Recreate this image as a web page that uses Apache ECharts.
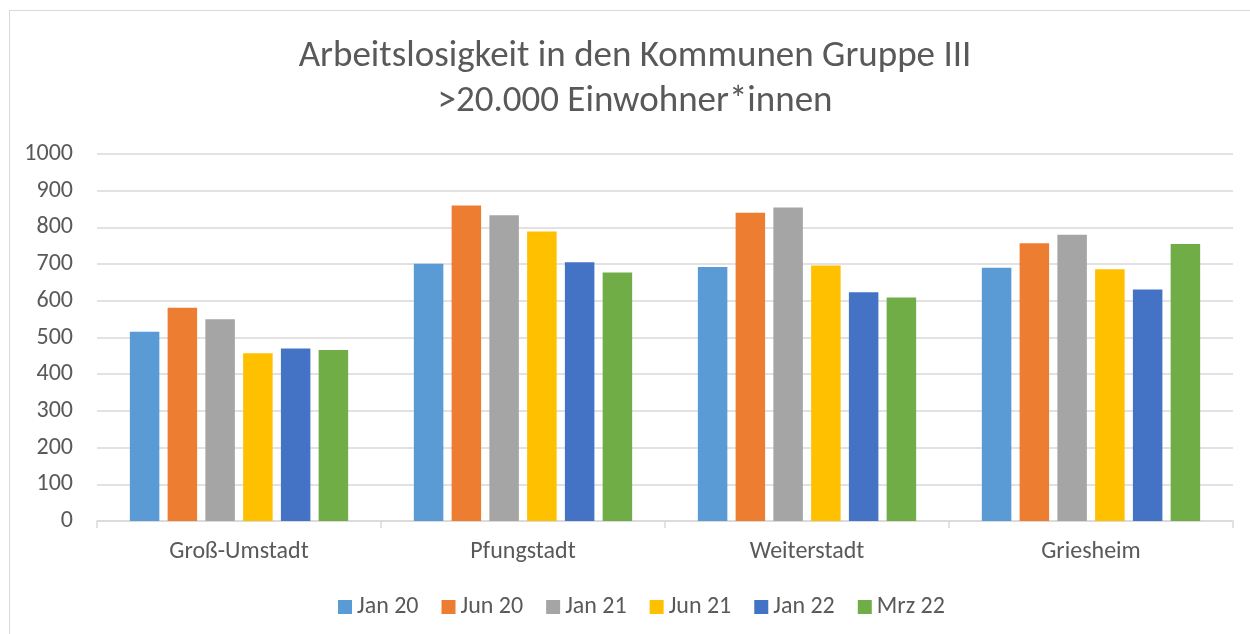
<!DOCTYPE html>
<html>
<head>
<meta charset="utf-8">
<script src="https://cdn.jsdelivr.net/npm/echarts@6/dist/echarts.min.js"></script>
<style>
  html, body { margin: 0; padding: 0; background: #fff; }
  #frame { position: absolute; left: 9px; top: 10px; width: 1250px; height: 630px; border: 1px solid #d9d9d9; box-sizing: border-box; }
  #chart { position: absolute; left: 0; top: 0; width: 1250px; height: 634px; }
</style>
</head>
<body>
<div id="frame"></div>
<div id="chart"></div>
<script>
// Kommunen (Kategorien)
var kommunen = ['Groß-Umstadt', 'Pfungstadt', 'Weiterstadt', 'Griesheim'];
// Stichtage
var stichtage = ['Jan 20', 'Jun 20', 'Jan 21', 'Jun 21', 'Jan 22', 'Mrz 22'];
var jan20 = [516, 701, 692, 690];
var jun20 = [581, 860, 840, 757];
var jan21 = [550, 833, 854, 780];
var jun21 = [457, 789, 696, 686];
var jan22 = [470, 705, 623, 631];
var mrz22 = [466, 677, 609, 755];
var yTicks = [0, 100, 200, 300, 400, 500, 600, 700, 800, 900, 1000];

var werte = [jan20, jun20, jan21, jun21, jan22, mrz22];
var farben = ['#5B9BD5', '#ED7D31', '#A5A5A5', '#FFC000', '#4472C4', '#70AD47'];
var schrift = "Carlito, Calibri, 'Open Sans', sans-serif";

var myChart = echarts.init(document.getElementById('chart'));
var series = [];
for (var i = 0; i < stichtage.length; i++) {
  series.push({
    name: stichtage[i],
    type: 'bar',
    data: werte[i],
    barWidth: 29.5,
    barGap: '28%',
    itemStyle: { color: farben[i] }
  });
}

var option = {
  color: farben,
  title: {
    text: 'Arbeitslosigkeit in den Kommunen Gruppe III\n>20.000 Einwohner*innen',
    left: 630,
    textAlign: 'center',
    top: 29,
    textStyle: {
      fontFamily: schrift,
      fontSize: 37,
      fontWeight: 'normal',
      color: '#595959',
      lineHeight: 45
    }
  },
  legend: {
    data: stichtage,
    top: 590,
    left: 333,
    itemWidth: 14,
    itemHeight: 14,
    itemGap: 23,
    icon: 'rect',
    textStyle: { fontFamily: schrift, fontSize: 24, color: '#595959' }
  },
  grid: { left: 97, right: 17, top: 154, bottom: 113 },
  xAxis: {
    type: 'category',
    data: kommunen,
    axisLine: { lineStyle: { color: '#d9d9d9', width: 1.5 } },
    axisTick: { show: true, length: 7, lineStyle: { color: '#d9d9d9', width: 1.5 } },
    axisLabel: { fontFamily: schrift, fontSize: 24, color: '#595959', margin: 19 }
  },
  yAxis: {
    type: 'value',
    min: yTicks[0],
    max: yTicks[yTicks.length - 1],
    interval: 100,
    axisLine: { show: false },
    axisTick: { show: false },
    axisLabel: {
      fontFamily: schrift, fontSize: 24, color: '#595959', margin: 24,
      formatter: function (v) { return String(v); }
    },
    splitLine: { lineStyle: { color: '#d9d9d9', width: 1.5 } }
  },
  series: series
};

myChart.setOption(option, true);
</script>
</body>
</html>
